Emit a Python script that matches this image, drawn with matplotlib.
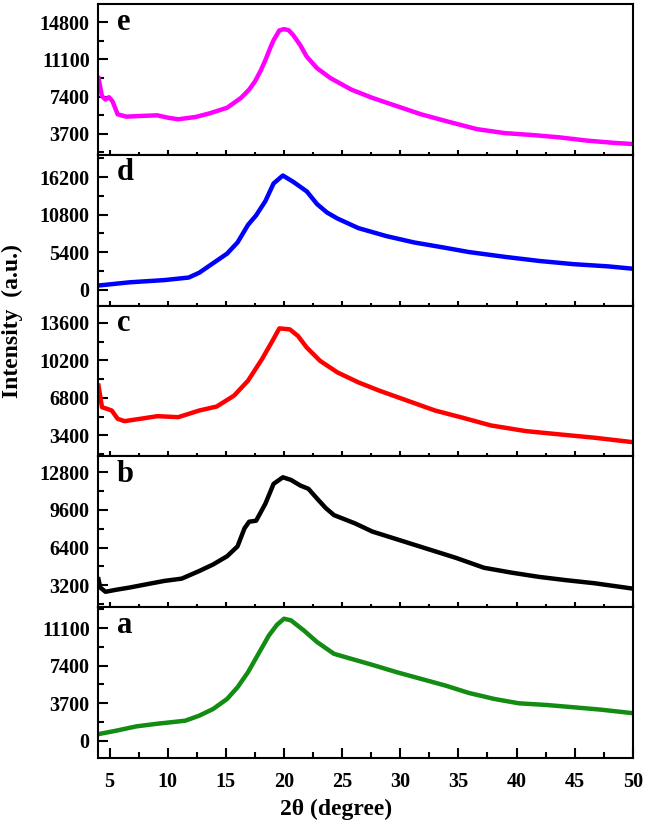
import matplotlib
matplotlib.use('Agg')
import matplotlib.pyplot as plt
from matplotlib.ticker import MultipleLocator

# 2theta positions and intensities (one series per sample)
x_e = [4.04, 4.34, 4.64, 4.94, 5.24, 5.69, 6.43, 7.63, 9.1, 10.0, 10.9, 12.4, 13.6, 15.1, 16.3, 17.0,
       17.5, 18.0, 18.4, 18.8, 19.1, 19.6, 20.0, 20.4, 20.8, 21.4, 21.96, 22.85, 24.0, 25.8, 27.6, 29.7,
       31.8, 34.2, 36.6, 38.97, 41.4, 43.7, 46.1, 48.5, 49.9]
y_e = [9234, 7433, 7106, 7335, 6942, 5633, 5404, 5470, 5535, 5300, 5142, 5371, 5731, 6288, 7270, 8100,
       8907, 10000, 11035, 12200, 13000, 13982, 14112, 14000, 13500, 12508, 11362, 10216, 9234, 8088,
       7270, 6451, 5633, 4880, 4160, 3767, 3570, 3341, 3014, 2785, 2686]

x_d = [4.04, 6.7, 9.7, 11.8, 12.7, 13.9, 15.1, 16.0, 16.9, 17.6, 18.4, 19.1, 19.9, 20.8, 21.96, 22.85,
       23.7, 24.6, 26.4, 28.8, 31.2, 33.6, 35.9, 38.97, 41.96, 44.9, 47.9, 49.9]
y_d = [594, 1053, 1374, 1741, 2430, 3807, 5184, 6790, 9315, 10692, 12758, 15282, 16430, 15512, 14135,
       12300, 11100, 10233, 8856, 7709, 6790, 6102, 5414, 4725, 4128, 3669, 3348, 3027]

x_c = [4.04, 4.34, 4.79, 5.18, 5.69, 6.28, 7.63, 9.1, 10.9, 12.7, 14.2, 15.7, 16.9, 18.1, 19.0, 19.6,
       20.5, 21.2, 21.96, 23.1, 24.6, 26.4, 28.2, 30.6, 33.0, 35.4, 37.8, 40.8, 43.7, 46.7, 49.9]
y_c = [7900, 5950, 5800, 5650, 4900, 4690, 4900, 5140, 5050, 5650, 6010, 7000, 8350, 10300, 11950, 13090,
       13000, 12400, 11350, 10150, 9100, 8200, 7450, 6550, 5650, 4990, 4300, 3790, 3490, 3190, 2800]

x_b = [4.04, 4.19, 4.64, 5.54, 6.73, 8.2, 9.7, 11.2, 12.7, 13.9, 15.1, 16.0, 16.6, 17.0, 17.6, 18.4,
       19.1, 19.9, 20.6, 21.4, 22.1, 22.85, 23.6, 24.3, 26.1, 27.6, 29.4, 31.2, 33.0, 34.8, 37.2, 39.6,
       41.96, 44.3, 46.7, 49.9]
y_b = [3700, 3000, 2636, 2804, 3000, 3280, 3560, 3756, 4400, 4960, 5660, 6500, 8040, 8600, 8684, 10140,
       11820, 12380, 12156, 11680, 11400, 10560, 9750, 9160, 8460, 7760, 7200, 6640, 6080, 5520, 4680,
       4260, 3900, 3620, 3364, 2920]

x_a = [4.04, 5.54, 7.3, 9.1, 11.5, 12.7, 13.9, 15.1, 16.0, 16.9, 17.8, 18.7, 19.4, 20.0, 20.6, 21.7,
       22.85, 24.3, 25.8, 27.6, 29.7, 31.8, 33.9, 35.9, 38.1, 40.2, 42.6, 45.0, 47.3, 49.9]
y_a = [670, 1000, 1430, 1690, 1987, 2480, 3140, 4125, 5277, 6757, 8567, 10376, 11430, 12020, 11857, 10870,
       9718, 8567, 8070, 7481, 6757, 6099, 5441, 4718, 4125, 3700, 3533, 3300, 3070, 2740]

labels = ['e', 'd', 'c', 'b', 'a']
colors = ['#ff00ff', '#0000ff', '#ff0000', '#000000', '#128c12']
y_steps = [3700, 5400, 3400, 3200, 3700]
y_limits = [(1600, 16600), (-2300, 19400), (1500, 15150), (1330, 14160), (-1670, 13160)]

plt.rcParams['font.family'] = ['Liberation Serif', 'DejaVu Serif']
plt.rcParams['font.weight'] = 'bold'

fig, axes = plt.subplots(5, 1, sharex=True, figsize=(6.45, 8.22), dpi=100)
fig.subplots_adjust(left=0.152, right=0.981, top=0.995, bottom=0.078, hspace=0)

series = [(x_e, y_e), (x_d, y_d), (x_c, y_c), (x_b, y_b), (x_a, y_a)]
for ax, (xs, ys), lab, col, step, lim in zip(axes, series, labels, colors, y_steps, y_limits):
    ax.plot(xs, ys, color=col, lw=3.2, solid_joinstyle='round')
    ax.set_ylim(*lim)
    ax.yaxis.set_major_locator(MultipleLocator(step))
    ax.yaxis.set_minor_locator(MultipleLocator(step / 2))
    ax.tick_params(axis='y', which='major', direction='in', length=7, width=1.5,
                   labelsize=14.5, pad=6)
    ax.tick_params(axis='y', which='minor', direction='in', length=4, width=1.5)
    ax.tick_params(axis='x', which='both', direction='in', width=1.5)
    for sp in ax.spines.values():
        sp.set_linewidth(1.5)
    for t in ax.get_yticklabels():
        t.set_fontweight('bold')
    ax.text(0.035, 0.88, lab, transform=ax.transAxes, fontsize=22, fontweight='bold',
            va='center', ha='left',
            bbox=dict(facecolor='white', edgecolor='none', pad=1))

ax = axes[-1]
ax.set_xlim(4, 50)
ax.xaxis.set_major_locator(MultipleLocator(5))
ax.xaxis.set_minor_locator(MultipleLocator(2.5))
ax.tick_params(axis='x', which='major', length=7, labelsize=14.5, pad=10)
ax.tick_params(axis='x', which='minor', length=4)
for t in ax.get_xticklabels():
    t.set_fontweight('bold')
ax.set_xlabel('2θ (degree)', fontsize=17, fontweight='bold', labelpad=4)
ax.xaxis.set_label_coords(0.445, -0.27)

fig.text(0.02, 0.609, 'Intensity  (a.u.)', rotation=90, fontsize=17, fontweight='bold',
         va='center', ha='center')

plt.savefig('out.png', dpi=100)
